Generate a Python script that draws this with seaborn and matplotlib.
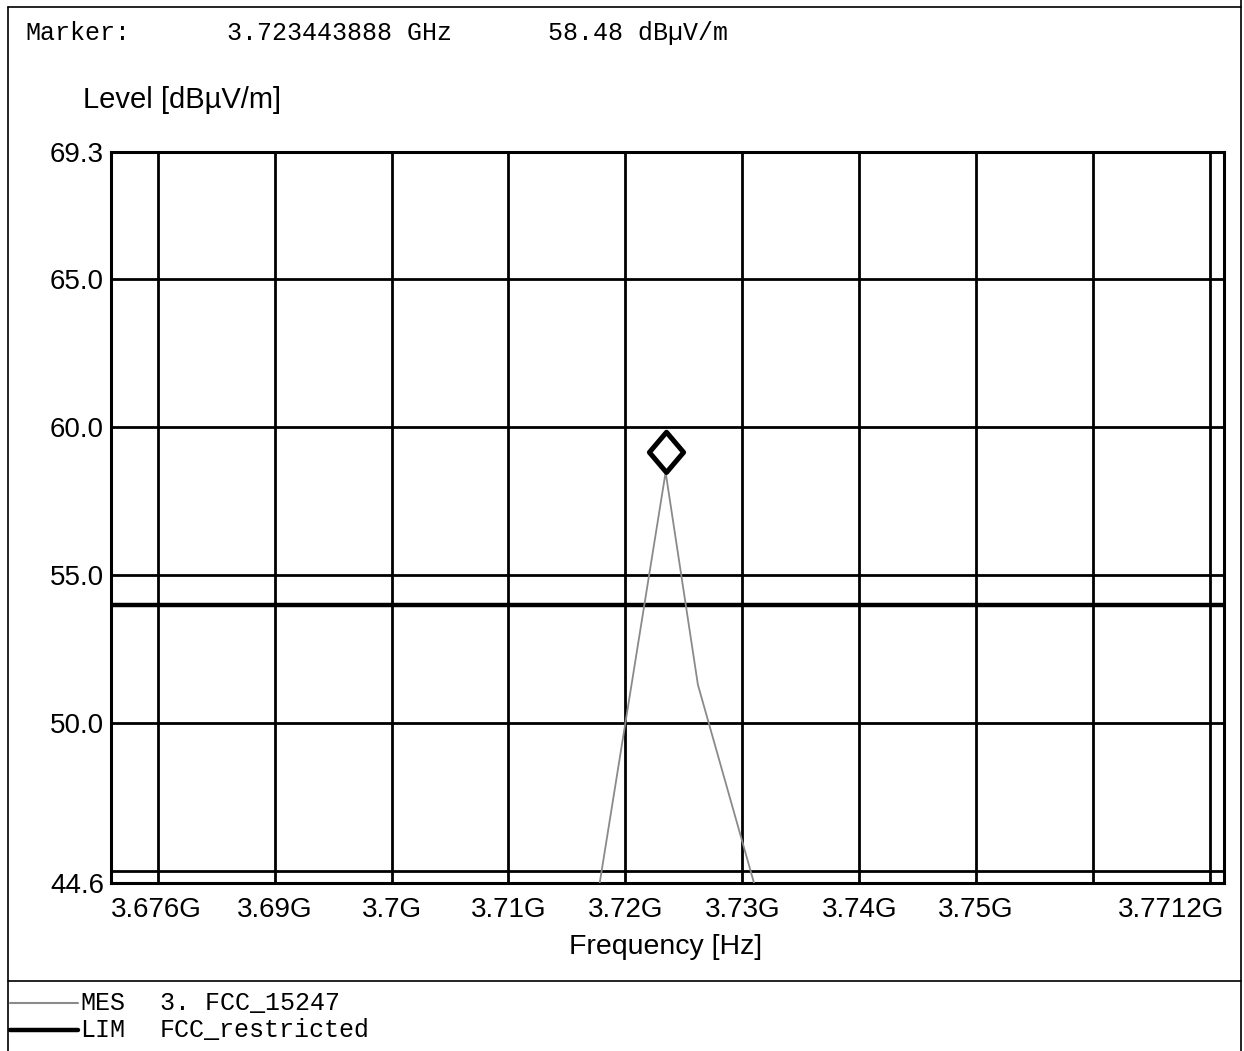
import matplotlib
matplotlib.use("Agg")
import matplotlib.pyplot as plt
from matplotlib.lines import Line2D
from matplotlib.path import Path
import numpy as np
import pandas as pd
import seaborn as sns

# Measurement trace (GHz, dBµV/m)
mes_freq = [3.7178, 3.72344, 3.7262, 3.7310]
mes_level = [44.6, 58.48, 51.3, 44.6]

# Limit line FCC restricted band
lim_freq = [3.676, 3.7712]
lim_level = [54.0, 54.0]

# Marker reading
marker_freq = 3.723443888
marker_level = 58.48

# Axis range and labels
x_range = [3.676, 3.7712]
y_range = [44.6, 69.3]
x_tick_pos = [3.676, 3.69, 3.70, 3.71, 3.72, 3.73, 3.74, 3.75, 3.7712]
x_tick_labels = ["3.676G", "3.69G", "3.7G", "3.71G", "3.72G", "3.73G", "3.74G", "3.75G", "3.7712G"]
x_grid = [3.68, 3.69, 3.70, 3.71, 3.72, 3.73, 3.74, 3.75, 3.76, 3.77]
y_tick_pos = [44.6, 50.0, 55.0, 60.0, 65.0, 69.3]
y_tick_labels = ["44.6", "50.0", "55.0", "60.0", "65.0", "69.3"]
y_grid = [45, 50, 55, 60, 65]

sns.set_style("white")
plt.rcParams["font.family"] = ["Liberation Sans", "DejaVu Sans"]
plt.rcParams["text.color"] = "black"
plt.rcParams["axes.labelcolor"] = "black"

W, H = 1244, 1051
fig = plt.figure(figsize=(W / 100, H / 100), dpi=100)
ax = fig.add_axes([111 / W, 1 - 883 / H, (1224 - 111) / W, (883 - 152) / H])

mes_df = pd.DataFrame({"freq": mes_freq, "level": mes_level})
lim_df = pd.DataFrame({"freq": lim_freq, "level": lim_level})

sns.lineplot(data=lim_df, x="freq", y="level", ax=ax, color="black", lw=3.2, zorder=3)
sns.lineplot(data=mes_df, x="freq", y="level", ax=ax, color="#8a8a8a", lw=1.3, zorder=4)

# Diamond marker sitting on top of the peak
diamond = Path([(0, 0), (0.85, 1), (0, 2), (-0.85, 1), (0, 0)],
               [Path.MOVETO, Path.LINETO, Path.LINETO, Path.LINETO, Path.CLOSEPOLY])
ax.plot([marker_freq], [marker_level], marker=diamond, markersize=58,
        markerfacecolor="white", markeredgecolor="black", markeredgewidth=3.6,
        linestyle="none", zorder=5)

ax.set_xlim(x_range)
ax.set_ylim(y_range)
ax.xaxis.remove_overlapping_locs = False
ax.yaxis.remove_overlapping_locs = False
ax.set_xticks(x_tick_pos)
ax.set_xticklabels(x_tick_labels)
ax.set_xticks(x_grid, minor=True)
ax.set_yticks(y_tick_pos)
ax.set_yticklabels(y_tick_labels)
ax.set_yticks(y_grid, minor=True)
ax.grid(False, which="major")
ax.grid(True, which="minor", color="black", lw=2.0)
ax.set_axisbelow(True)
ax.tick_params(which="both", length=0)
ax.tick_params(axis="x", pad=10, labelsize=20, colors="black")
ax.tick_params(axis="y", pad=5, labelsize=20, colors="black")
xt = ax.get_xticklabels()
xt[0].set_ha("left")
xt[-1].set_ha("right")
for s in ax.spines.values():
    s.set_visible(True)
    s.set_color("black")
    s.set_linewidth(2.2)

ax.set_xlabel("Frequency [Hz]", fontsize=20.5)
ax.xaxis.set_label_coords(0.498, -(947 - 883) / (883 - 152))
ax.xaxis.label.set_va("center")
ax.set_ylabel("Level [dBµV/m]", fontsize=21, rotation=0, ha="left", va="center")
ax.yaxis.set_label_coords((83 - 111) / (1224 - 111), (883 - 100) / (883 - 152))


def fx(px):
    return px / W


def fy(py):
    return 1 - py / H


mono = ["Liberation Mono", "DejaVu Sans Mono"]
fig.text(fx(25), fy(33), "Marker:", family=mono, fontsize=18, va="center")
fig.text(fx(227), fy(33), f"{marker_freq:.9f} GHz", family=mono, fontsize=18, va="center")
fig.text(fx(548), fy(33), f"{marker_level:.2f} dBµV/m", family=mono, fontsize=18, va="center")

# Frame lines around the plot sheet
frame_kw = dict(transform=fig.transFigure, color="black", lw=1.2)
fig.add_artist(Line2D([fx(8), fx(1241)], [fy(7), fy(7)], **frame_kw))
fig.add_artist(Line2D([fx(8), fx(8)], [fy(7), fy(1051)], **frame_kw))
fig.add_artist(Line2D([fx(1241), fx(1241)], [fy(0), fy(1051)], **frame_kw))
fig.add_artist(Line2D([fx(8), fx(1241)], [fy(981), fy(981)], **frame_kw))

# Trace legend
fig.add_artist(Line2D([fx(10), fx(78)], [fy(1003), fy(1003)], transform=fig.transFigure,
                      color="#8a8a8a", lw=1.5))
fig.add_artist(Line2D([fx(10), fx(78)], [fy(1030), fy(1030)], transform=fig.transFigure,
                      color="black", lw=3.2))
fig.text(fx(80), fy(1003), "MES", family=mono, fontsize=18, va="center")
fig.text(fx(160), fy(1003), "3. FCC_15247", family=mono, fontsize=18, va="center")
fig.text(fx(80), fy(1030), "LIM", family=mono, fontsize=18, va="center")
fig.text(fx(160), fy(1030), "FCC_restricted", family=mono, fontsize=18, va="center")

fig.savefig("out.png", dpi=100, facecolor="white")
